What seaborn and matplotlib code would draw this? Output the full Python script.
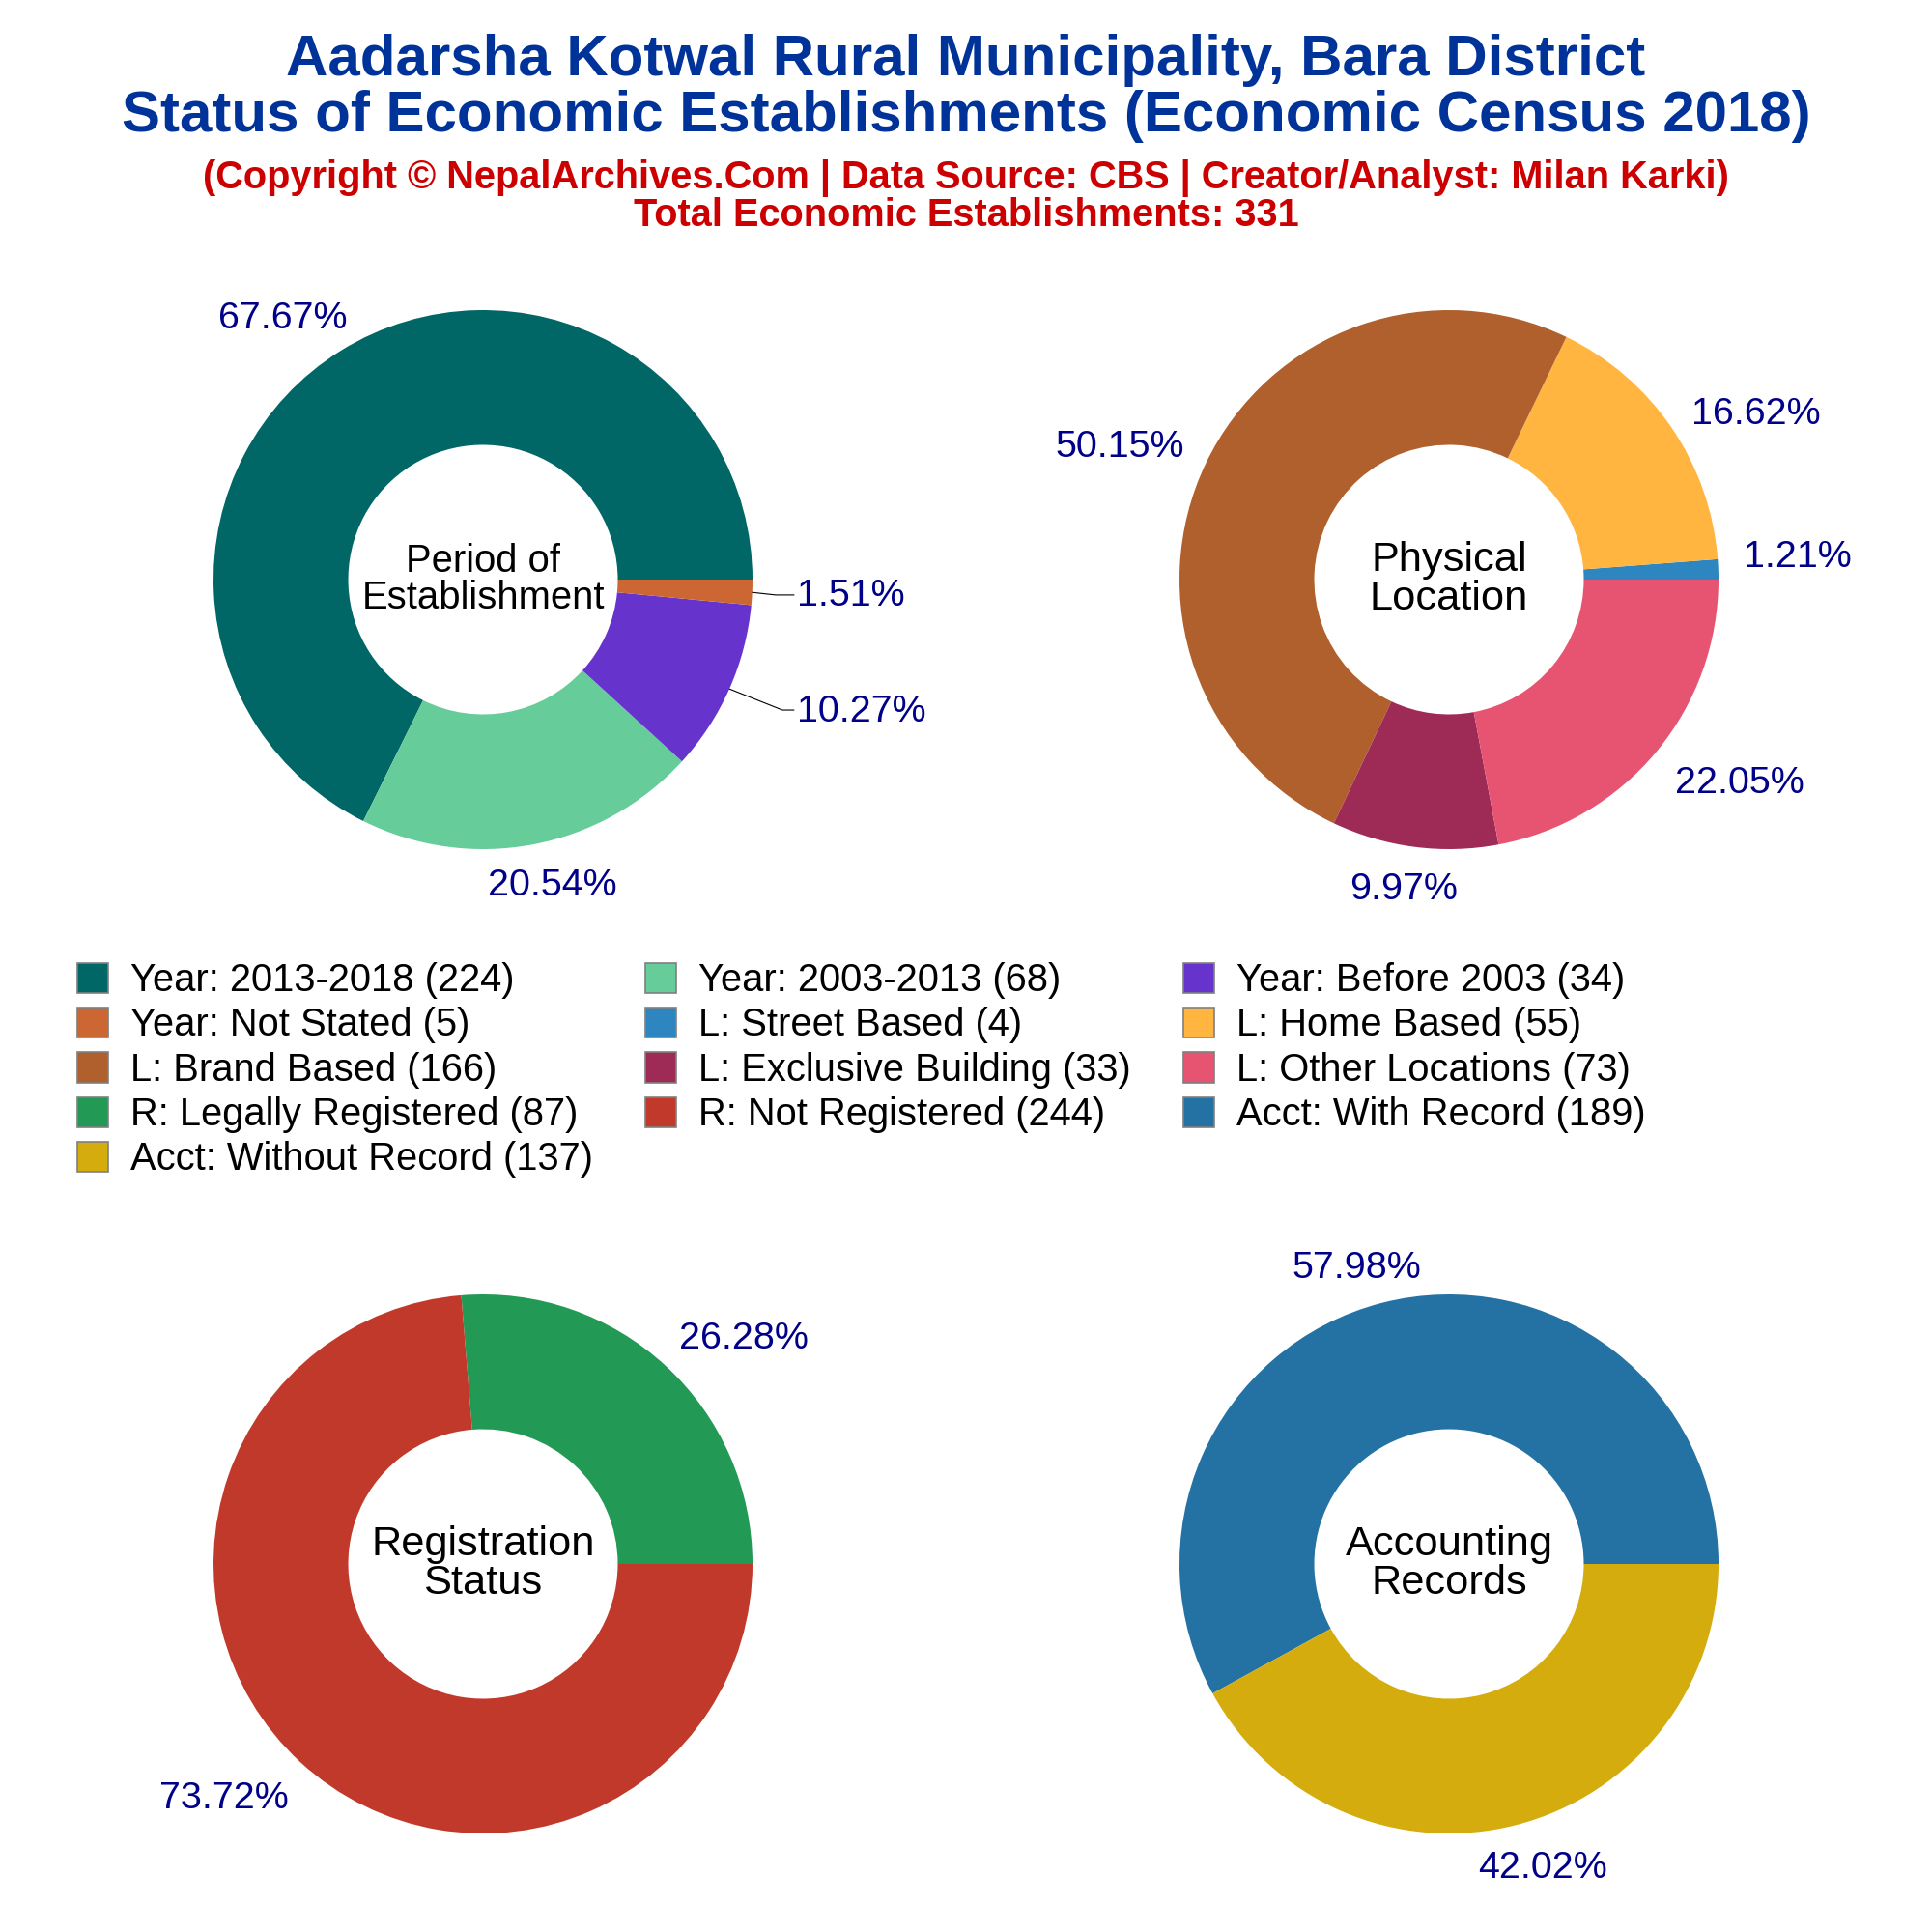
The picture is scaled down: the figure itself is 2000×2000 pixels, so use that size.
import numpy as np
import matplotlib
matplotlib.use("Agg")
import matplotlib.pyplot as plt
from matplotlib.patches import Patch
import seaborn as sns

# Data
period_names = ["Year: 2013-2018", "Year: 2003-2013", "Year: Before 2003", "Year: Not Stated"]
period_values = [224, 68, 34, 5]
period_colors = ["#006666", "#66CC99", "#6633CC", "#CC6633"]

location_names = ["L: Street Based", "L: Home Based", "L: Brand Based", "L: Exclusive Building", "L: Other Locations"]
location_values = [4, 55, 166, 33, 73]
location_colors = ["#2E86C1", "#FFB53F", "#B0602C", "#9E2A56", "#E75472"]

register_names = ["R: Legally Registered", "R: Not Registered"]
register_values = [87, 244]
register_colors = ["#229954", "#C0392B"]

account_names = ["Acct: With Record", "Acct: Without Record"]
account_values = [189, 137]
account_colors = ["#2471A3", "#D4AC0D"]

sns.set_theme(style="white")
plt.rcParams["font.family"] = ["Liberation Sans", "DejaVu Sans"]

W = 2000
R = 279


def place_axes(fig, cx, cy):
    return fig.add_axes([(cx - R) / W, 1 - (cy + R) / W, 2 * R / W, 2 * R / W])


def donut(ax, values, colors, center, center_size, label_pos, leaders=None):
    values = np.array(values, dtype=float)
    ax.pie(values, colors=colors, radius=1, startangle=0, counterclock=True,
           wedgeprops=dict(width=0.5, linewidth=0))
    ax.set_xlim(-1, 1)
    ax.set_ylim(-1, 1)
    ax.set_aspect("equal")
    ax.axis("off")

    pct = values / values.sum() * 100
    mids = np.cumsum(pct * 3.6) - pct * 1.8
    for i, (p, mid) in enumerate(zip(pct, mids)):
        dist, nudge = label_pos[i]
        a = np.radians(mid + nudge)
        ax.text(dist * np.cos(a), dist * np.sin(a) - 0.009, f"{p:.2f}%", color="#000088",
                fontsize=14.2, ha="center", va="center", clip_on=False)
        if leaders and i in leaders:
            m = np.radians(mid)
            ex, ey, endx = leaders[i]
            ax.plot([np.cos(m), ex, endx], [np.sin(m), ey, ey], color="black",
                    linewidth=0.4, clip_on=False)

    ax.text(0, 0, center, color="black", fontsize=center_size, ha="center",
            va="center", linespacing=1.0)


fig = plt.figure(figsize=(10, 10), dpi=200)

# Titles
fig.text(0.5, 1 - 62 / W, "Aadarsha Kotwal Rural Municipality, Bara District", color="#003399",
         fontsize=21.6, fontweight="bold", ha="center", va="center")
fig.text(0.5, 1 - 121 / W, "Status of Economic Establishments (Economic Census 2018)", color="#003399",
         fontsize=21.6, fontweight="bold", ha="center", va="center")
fig.text(0.5, 1 - 184.5 / W, "(Copyright © NepalArchives.Com | Data Source: CBS | Creator/Analyst: Milan Karki)",
         color="#CC0000", fontsize=14.3, fontweight="bold", ha="center", va="center")
fig.text(0.5, 1 - 223.5 / W, "Total Economic Establishments: 331",
         color="#CC0000", fontsize=14.3, fontweight="bold", ha="center", va="center")

# Donuts: label offsets are (distance from centre, angle nudge from slice middle)
donut(place_axes(fig, 500, 600), period_values, period_colors, "Period of\nEstablishment", 14.4,
      [(1.228, 5.5), (1.157, 2.2), (1.483, 5.0), (1.366, 0.5)],
      leaders={2: (1.111, -0.484, 1.154), 3: (1.086, -0.057, 1.154)})
donut(place_axes(fig, 1500, 600), location_values, location_colors, "Physical\nLocation", 15.6,
      [(1.295, 1.9), (1.30, -5.6), (1.319, 3.2), (1.155, -1.0), (1.312, 4.9)])
donut(place_axes(fig, 500, 1619), register_values, register_colors, "Registration\nStatus", 15.6,
      [(1.285, -6.2), (1.293, -5.4)])
donut(place_axes(fig, 1500, 1619), account_values, account_colors, "Accounting\nRecords", 15.6,
      [(1.157, 2.8), (1.172, 2.9)])

# Legend, filled row by row like the original
names = period_names + location_names + register_names + account_names
values = period_values + location_values + register_values + account_values
colors = period_colors + location_colors + register_colors + account_colors
handles = [Patch(facecolor=c, edgecolor="#808080", linewidth=0.6, label=f"{n} ({v})")
           for n, v, c in zip(names, values, colors)]
order = [0, 3, 6, 9, 12, 1, 4, 7, 10, 2, 5, 8, 11]
fig.legend([handles[i] for i in order], [handles[i].get_label() for i in order],
           ncols=3, loc="upper left", bbox_to_anchor=(80 / W, 1 - 996 / W),
           bbox_transform=fig.transFigure, frameon=False, fontsize=14.35, labelcolor="black",
           borderpad=0, borderaxespad=0, handlelength=0.8, handleheight=0.83,
           handletextpad=0.58, columnspacing=1.36, labelspacing=0.21)

fig.savefig("out.png", dpi=200, facecolor="white")
